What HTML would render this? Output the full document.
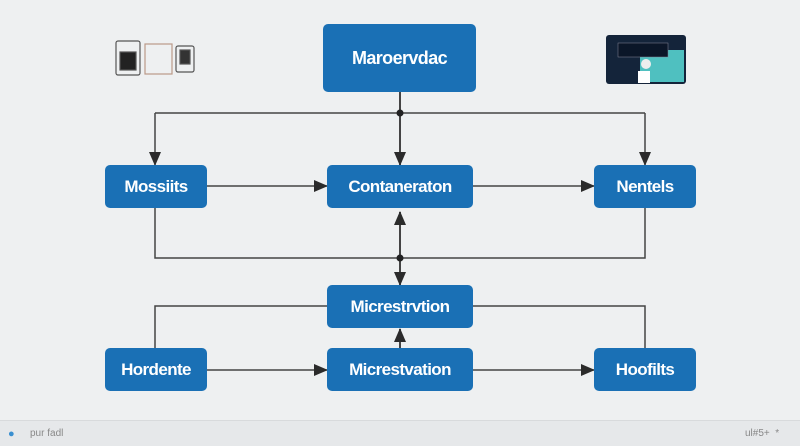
<!DOCTYPE html>
<html><head><style>
body{margin:0;width:800px;height:445px;background:#eef0f1;font-family:"Liberation Sans",sans-serif;overflow:hidden;position:relative}
.b{position:absolute;background:#1a70b5;border-radius:5px;color:#fff;font-weight:bold;font-size:17px;display:flex;align-items:center;justify-content:center;letter-spacing:-0.6px}
.foot{position:absolute;left:0;top:420px;width:800px;height:25px;background:#e6e8ea;border-top:1px solid #d8dadc}
</style></head><body>
<svg width="800" height="445" style="position:absolute;left:0;top:0">
<defs><marker id="a" markerWidth="14" markerHeight="14" refX="13" refY="6" orient="auto" markerUnits="userSpaceOnUse"><path d="M0,0L14,6L0,12z" fill="#2b2b2b"/></marker>
<marker id="s" markerWidth="14" markerHeight="14" refX="1" refY="6" orient="auto" markerUnits="userSpaceOnUse"><path d="M14,0L0,6L14,12z" fill="#2b2b2b"/></marker></defs>
<g stroke="#444" stroke-width="1.5" fill="none">
<path d="M400,92V165" marker-end="url(#a)" stroke-width="2"/>
<path d="M155,113H645"/>
<path d="M155,113V165" marker-end="url(#a)"/>
<path d="M645,113V165" marker-end="url(#a)"/>
<path d="M207,186H327" marker-end="url(#a)"/>
<path d="M473,186H594" marker-end="url(#a)"/>
<path d="M155,208V258H645V208"/>
<path d="M400,212V285" stroke-width="2" marker-start="url(#s)" marker-end="url(#a)"/>
<path d="M155,348V306H327M473,306H645V348"/>
<path d="M207,370H327" marker-end="url(#a)"/>
<path d="M473,370H594" marker-end="url(#a)"/>
<path d="M400,348V329" marker-end="url(#a)" stroke-width="2"/>
</g>
<circle cx="400" cy="113" r="3.5" fill="#222"/><circle cx="400" cy="258" r="3.5" fill="#222"/>
<g stroke="#555" fill="none" stroke-width="1.2">
<rect x="116" y="41" width="24" height="34" rx="2"/><rect x="120" y="52" width="16" height="18" fill="#222"/>
<rect x="145" y="44" width="27" height="30" stroke="#b98"/><rect x="176" y="46" width="18" height="26" rx="2"/><rect x="180" y="50" width="10" height="14" fill="#333"/>
</g>
<rect x="606" y="35" width="80" height="49" rx="3" fill="#14243a"/>
<rect x="640" y="50" width="44" height="32" fill="#4fc0c0"/>
<rect x="618" y="43" width="50" height="14" fill="#0b1628" stroke="#889" stroke-width="0.5"/>
<circle cx="646" cy="64" r="5" fill="#eee"/><rect x="638" y="71" width="12" height="12" fill="#fff"/>
</svg>
<div class="b" style="left:323px;top:24px;width:153px;height:68px;font-size:18px">Maroervdac</div>
<div class="b" style="left:105px;top:165px;width:102px;height:43px">Mossiits</div>
<div class="b" style="left:327px;top:165px;width:146px;height:43px">Contaneraton</div>
<div class="b" style="left:594px;top:165px;width:102px;height:43px">Nentels</div>
<div class="b" style="left:327px;top:285px;width:146px;height:43px">Micrestrvtion</div>
<div class="b" style="left:105px;top:348px;width:102px;height:43px">Hordente</div>
<div class="b" style="left:327px;top:348px;width:146px;height:43px">Micrestvation</div>
<div class="b" style="left:594px;top:348px;width:102px;height:43px">Hoofilts</div>
<div class="foot"><span style="position:absolute;left:8px;top:7px;color:#3a8fd0;font-size:11px">●</span><span style="position:absolute;left:30px;top:7px;color:#888;font-size:10px">pur fadl</span><span style="position:absolute;left:745px;top:7px;color:#888;font-size:10px">ul#5+ &nbsp;*</span></div>
</body></html>
